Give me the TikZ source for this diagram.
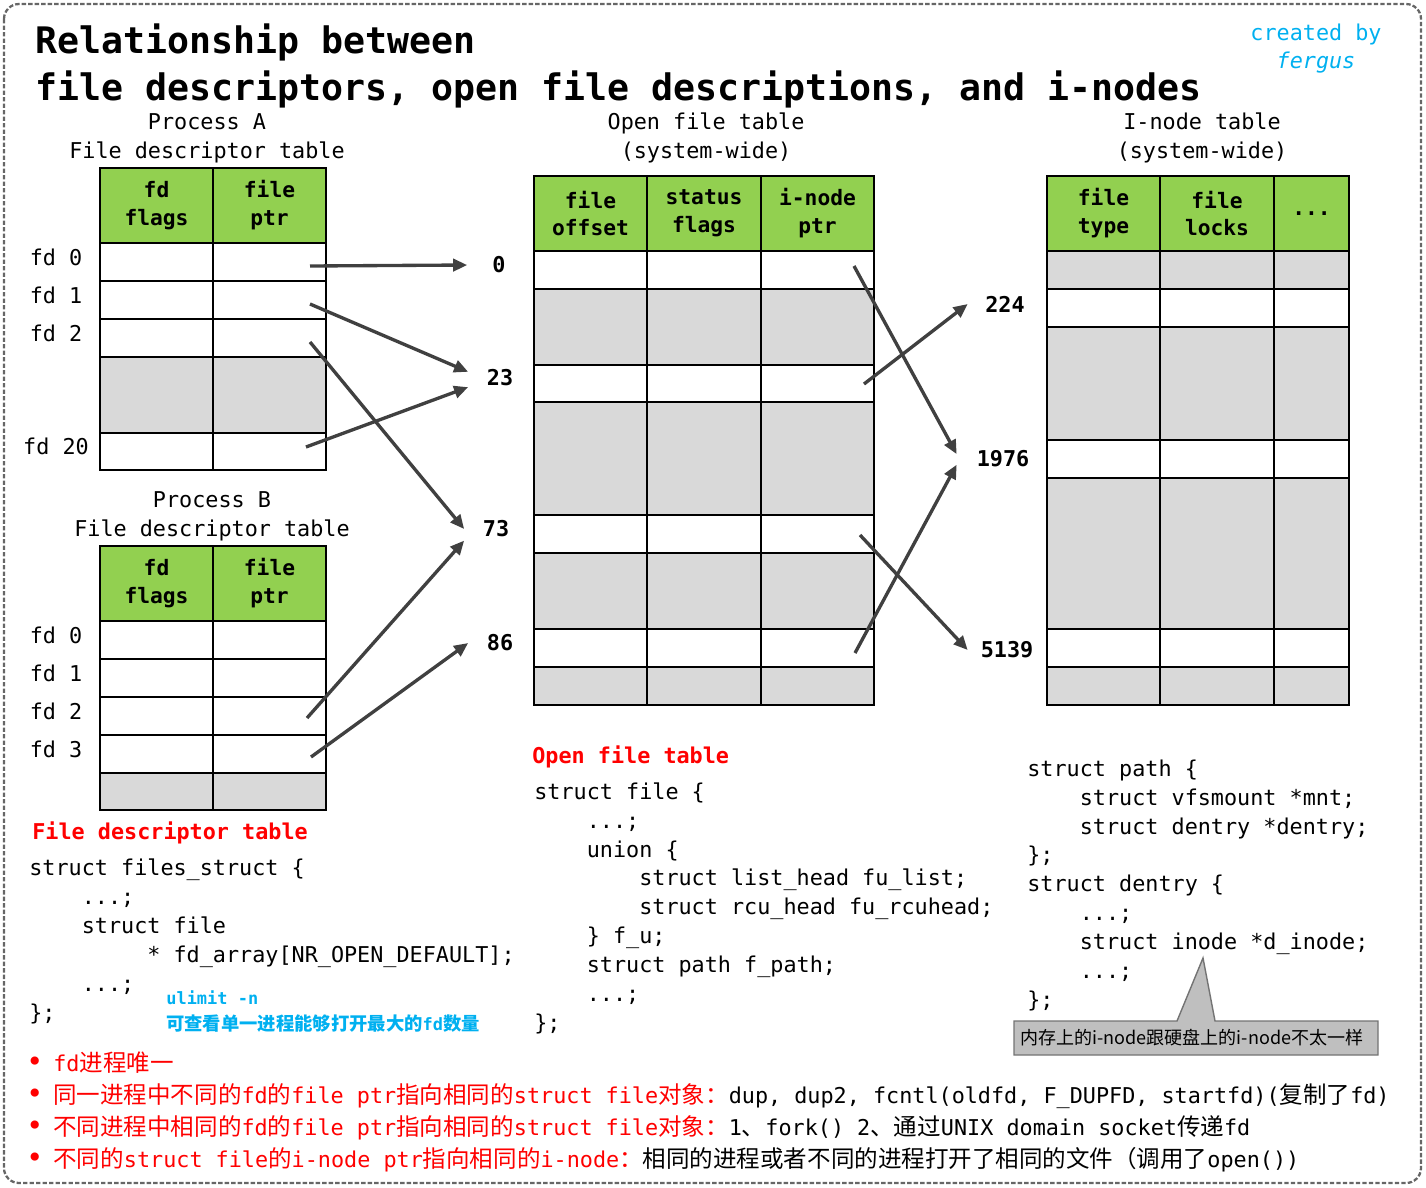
\documentclass[tikz,border=0pt]{standalone}
\usepackage{fontspec}
\setmainfont{DejaVu Sans Mono}
\newfontfamily\cjk[Scale=1.08]{Noto Sans CJK SC}
\usetikzlibrary{arrows.meta}

\definecolor{hdrgreen}{HTML}{92D050}
\definecolor{cellgray}{HTML}{D9D9D9}
\definecolor{noteblue}{HTML}{00B0F0}
\definecolor{ptrgray}{HTML}{404040}

\newcommand\codesize{\fontsize{12.4}{16.4}\selectfont}
\newcommand\hdrsize{\fontsize{12.1}{15.9}\selectfont\bfseries}
\newcommand\zh[1]{{\cjk #1}}
\newcommand\ind{\hspace*{2.408em}}
\newcommand\onech{\hspace*{0.602em}}

\begin{document}
\begin{tikzpicture}[x=0.02cm, y=-0.02cm]
\tikzstyle{cell}=[draw=black, line width=1.6pt]
\tikzstyle{hdr}=[cell, fill=hdrgreen, align=center, font=\hdrsize,
                 minimum width=2.26cm, minimum height=1.5cm, inner sep=0pt]
\tikzstyle{num}=[font=\codesize\bfseries, minimum width=1.26cm,
                 inner xsep=0pt, inner ysep=5pt]
\tikzstyle{ptr}=[draw=ptrgray, line width=1.9pt,
                 -{Triangle[length=8pt,width=7pt]}]
\tikzstyle{code}=[anchor=base west, align=left, font=\codesize, inner sep=0pt]
\tikzstyle{redhead}=[anchor=base west, text=red, font=\codesize\bfseries, inner sep=0pt]
\tikzstyle{caption}=[anchor=base, align=center, font=\codesize, inner sep=0pt]
\tikzstyle{fdlabel}=[font=\codesize, inner sep=0pt]
\tikzstyle{bul}=[anchor=base west, font=\codesize, inner sep=0pt]

\useasboundingbox (0,0) rectangle (1426,1187);
\draw[black!60, line width=1.3pt, dash pattern=on 2.5pt off 1.2pt, rounded corners=0.3cm]
  (4,4) rectangle (1421,1183);

% title
\node[anchor=base west, inner sep=0pt, font=\fontsize{20.8}{25}\selectfont\bfseries]
  (title1) at (35,53) {Relationship between};
\node[anchor=base west, inner sep=0pt, font=\fontsize{20.8}{25}\selectfont\bfseries]
  (title2) at (35,100) {file descriptors, open file descriptions, and i-nodes};
\node[anchor=base, inner sep=0pt, font=\codesize, text=noteblue] (credit) at (1316,40) {created by};
\node[anchor=base, inner sep=0pt, font=\codesize\itshape, text=noteblue] (author) at (1316,68) {fergus};

% captions (base = last line)
\node[caption] (pa-title) at (207,158) {Process A\\File descriptor table};
\node[caption] (pb-title) at (212,536) {Process B\\File descriptor table};
\node[caption] (oft-title) at (706,158) {Open file table\\(system-wide)};
\node[caption] (ino-title) at (1202,158) {I-node table\\(system-wide)};

% process A table
\foreach \t/\b/\c in {243/281/white,281/319/white,319/357/white,357/433/cellgray,433/470/white}
  \draw[cell, fill=\c] (100,\t) rectangle (326,\b);
\draw[cell] (213,243) -- (213,470);
\node[hdr] (pa-flags) at (156.5,205.5) {fd\\flags};
\node[hdr] (pa-ptr) at (269.5,205.5) {file\\ptr};
\foreach \y/\i in {257/0,295/1,333/2,446/20}
  \node[fdlabel] (la\i) at (56,\y) {fd \i};

% process B table
\foreach \t/\b/\c in {621/659/white,659/697/white,697/735/white,735/773/white,773/810/cellgray}
  \draw[cell, fill=\c] (100,\t) rectangle (326,\b);
\draw[cell] (213,621) -- (213,810);
\node[hdr] (pb-flags) at (156.5,583.5) {fd\\flags};
\node[hdr] (pb-ptr) at (269.5,583.5) {file\\ptr};
\foreach \y/\i in {635/0,673/1,711/2,749/3}
  \node[fdlabel] (lb\i) at (56,\y) {fd \i};

% open file table
\foreach \t/\b/\c in {251/289/white,289/365/cellgray,365/402/white,402/515/cellgray,
                      515/553/white,553/629/cellgray,629/667/white,667/705/cellgray}
  \draw[cell, fill=\c] (534,\t) rectangle (874,\b);
\draw[cell] (647,251) -- (647,705) (761,251) -- (761,705);
\node[hdr] (of-offset) at (590.5,213.5) {file\\offset};
\node[hdr, minimum width=2.28cm] (of-status) at (704,213.5) {status\\flags};
\node[hdr] (of-inode) at (817.5,213.5) {i-node\\ptr};

% i-node table
\foreach \t/\b/\c in {251/289/cellgray,289/327/white,327/440/cellgray,440/478/white,
                      478/629/cellgray,629/667/white,667/705/cellgray}
  \draw[cell, fill=\c] (1047,\t) rectangle (1349,\b);
\draw[cell] (1160,251) -- (1160,705) (1274,251) -- (1274,705);
\node[hdr] (in-type) at (1103.5,213.5) {file\\type};
\node[hdr, minimum width=2.28cm] (in-locks) at (1217,213.5) {file\\locks};
\node[hdr, minimum width=1.5cm] (in-more) at (1311.5,213.5) {...};

% entry numbers
\node[num] (n0) at (499,265) {0};
\node[num] (n23) at (500,378) {23};
\node[num] (n73) at (496,529) {73};
\node[num] (n86) at (500,643) {86};
\node[num, minimum width=1.48cm] (n224) at (1005,304) {224};
\node[num, minimum width=1.84cm] (n1976) at (1003,459) {1976};
\node[num, minimum width=1.56cm] (n5139) at (1007,650) {5139};

% pointers
\coordinate (a0) at (310,266);
\coordinate (a1) at (310,304);
\coordinate (a2) at (310,342);
\coordinate (a20) at (306,447);
\coordinate (b2) at (307,718);
\coordinate (b3) at (311,757);
\coordinate (f0) at (854,266);
\coordinate (f2) at (864,384);
\coordinate (f4) at (860,535);
\coordinate (f6) at (855,653);
\draw[ptr] (a0) -- (n0.west);
\draw[ptr] (a1) -- (n23.169);
\draw[ptr] (a20) -- (n23.196);
\draw[ptr] (a2) -- (n73.west);
\draw[ptr] (b2) -- (n73.200);
\draw[ptr] (b3) -- (n86.west);
\draw[ptr] (f0) -- (n1976.174);
\draw[ptr] (f6) -- (n1976.187);
\draw[ptr] (f2) -- (n224.west);
\draw[ptr] (f4) -- (n5139.west);

% kernel structs (base = last line)
\node[redhead] (fdt-head) at (32,839) {File descriptor table};
\node[code] (fdt-code) at (29,1020) {struct files\_struct \{\\
  \ind ...;\\
  \ind struct file\\
  \ind\ind\onech * fd\_array[NR\_OPEN\_DEFAULT];\\
  \ind ...;\\
  \};};
\node[anchor=base west, inner sep=0pt, align=left, text=noteblue,
      font=\fontsize{9.65}{14.3}\selectfont\bfseries] (ulimit) at (166,1030)
  {ulimit -n\\\zh{可查看单一进程能够打开最大的}fd\zh{数量}};

\node[redhead] (oft-head) at (532,763) {Open file table};
\node[code] (oft-code) at (534,1030) {struct file \{\\
  \ind ...;\\
  \ind union \{\\
  \ind\ind struct list\_head fu\_list;\\
  \ind\ind struct rcu\_head fu\_rcuhead;\\
  \ind \} f\_u;\\
  \ind struct path f\_path;\\
  \ind ...;\\
  \};};

\node[code] (path-code) at (1027,1007) {struct path \{\\
  \ind struct vfsmount *mnt;\\
  \ind struct dentry *dentry;\\
  \};\\
  struct dentry \{\\
  \ind ...;\\
  \ind struct inode *d\_inode;\\
  \ind ...;\\
  \};};

% callout
\draw[fill=gray!50, draw=black!55, line width=0.8pt]
  (1014,1021) -- (1177,1021) -- (1203,958) -- (1215,1021) -- (1378,1021)
  -- (1378,1055) -- (1014,1055) -- cycle;
\node[anchor=west, inner sep=0pt, font=\fontsize{9.5}{12}\selectfont] (inode-note) at (1020,1038)
  {\cjk 内存上的i-node跟硬盘上的i-node不太一样};

% notes
\foreach \y in {1071,1103,1135,1167}
  \node[bul, text=red, font=\fontsize{16}{18}\selectfont] at (26,\y) {•};
\node[bul] (note1) at (53,1071) {\color{red}fd\zh{进程唯一}};
\node[bul] (note2) at (53,1103) {{\color{red}\zh{同一进程中不同的}fd\zh{的}file ptr\zh{指向相同的}struct file\zh{对象：}}dup, dup2, fcntl(oldfd, F\_DUPFD, startfd)(\zh{复制了}fd)};
\node[bul] (note3) at (53,1135) {{\color{red}\zh{不同进程中相同的}fd\zh{的}file ptr\zh{指向相同的}struct file\zh{对象：}}1\zh{、}fork() 2\zh{、通过}UNIX domain socket\zh{传递}fd};
\node[bul] (note4) at (53,1167) {{\color{red}\zh{不同的}struct file\zh{的}i-node ptr\zh{指向相同的}i-node\zh{：}}\zh{相同的进程或者不同的进程打开了相同的文件（调用了}open())};
\end{tikzpicture}
\end{document}
